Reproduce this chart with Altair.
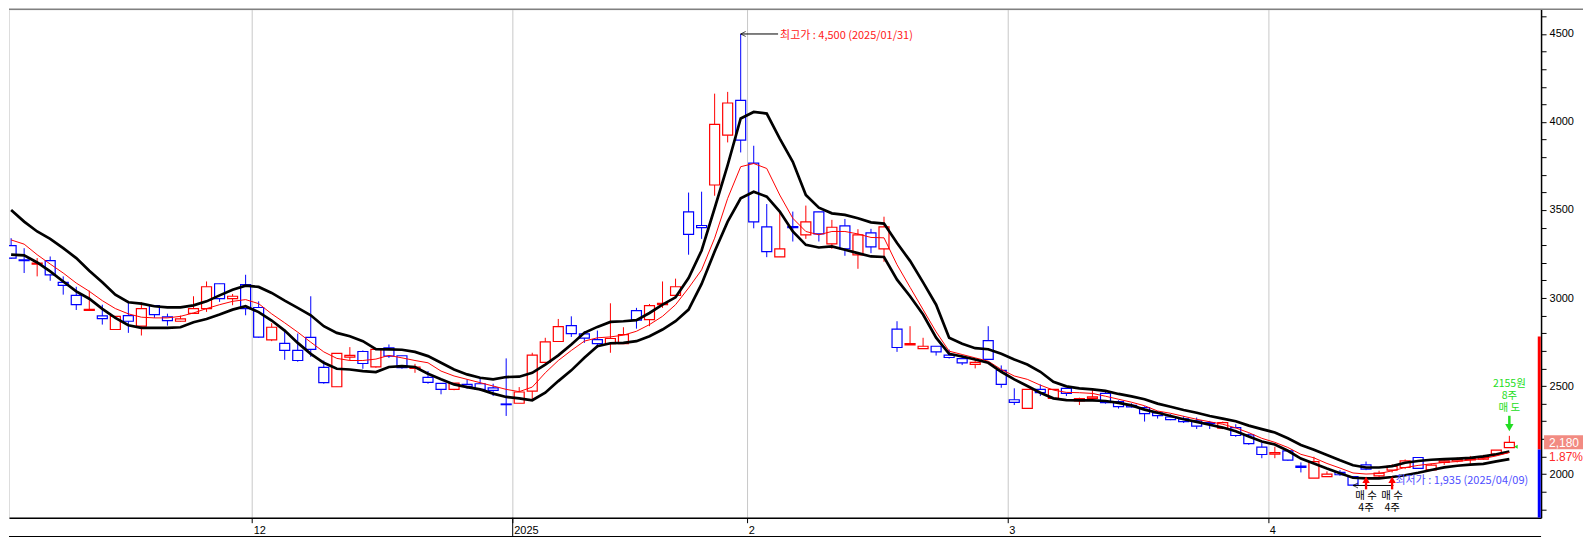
import altair as alt
import pandas as pd

# ---------------- data ----------------
opens = [3298,3217,3193,3212,3089,3015,2930,2898,2821,2900,
         2840,2957,2893,2868,2913,2940,3081,2996,3076,2946,
         2762,2742,2702,2776,2606,2496,2664,2696,2609,2717,
         2672,2600,2549,2515,2481,2509,2513,2489,2398,2402,
         2471,2634,2753,2843,2796,2764,2741,2741,2928,2877,
         2962,3015,3489,3412,3642,3925,4123,3766,3404,3234,
         3406,3359,3489,3308,3410,3245,3370,3279,2823,2734,
         2713,2726,2675,2656,2623,2758,2589,2422,2373,2481,
         2430,2487,2415,2430,2458,2411,2390,2377,2347,2324,
         2313,2302,2292,2260,2264,2222,2153,2113,2132,2045,
         1977,1985,2009,1985,2052,1990,2022,2037,2094,2024,
         2066,2075,2081,2085,2113,2150]
highs = [3340,3283,3227,3236,3123,3064,3042,2962,2896,2981,
         2976,2960,2911,2900,3010,3094,3081,3023,3132,2981,
         2857,2821,2798,3010,2645,2685,2721,2702,2713,2736,
         2672,2626,2585,2515,2517,2538,2543,2513,2657,2494,
         2689,2774,2881,2896,2811,2815,2970,2834,2944,2966,
         3094,3110,3599,3604,4161,4171,4500,3865,3534,3491,
         3491,3525,3489,3444,3449,3391,3393,3462,2868,2840,
         2774,2726,2707,2675,2645,2840,2617,2487,2481,2509,
         2481,2487,2434,2477,2472,2419,2402,2385,2358,2340,
         2330,2321,2302,2298,2283,2230,2179,2155,2136,2066,
         2098,2015,2022,1985,2071,2019,2056,2083,2094,2060,
         2090,2094,2103,2109,2136,2217]
lows = [3223,3142,3123,3098,3019,2932,2928,2849,2821,2802,
        2787,2887,2843,2866,2913,2921,2978,2959,2902,2775,
        2755,2649,2638,2666,2513,2496,2645,2598,2604,2660,
        2598,2575,2513,2453,2476,2485,2472,2443,2330,2402,
        2415,2634,2753,2779,2745,2717,2689,2741,2826,2840,
        2944,3015,3246,3336,3581,3884,3827,3396,3232,3234,
        3321,3336,3321,3279,3240,3166,3255,3206,2694,2734,
        2713,2673,2656,2619,2600,2651,2490,2392,2373,2443,
        2430,2443,2392,2415,2400,2372,2377,2298,2315,2306,
        2290,2256,2256,2255,2211,2166,2090,2090,2075,2009,
        1977,1985,1990,1935,2022,1981,2009,2028,2032,2018,
        2052,2066,2056,2081,2113,2150]
closes = [3227,3212,3198,3132,3072,2962,2936,2883,2896,2868,
          2940,2906,2872,2881,2940,3064,2996,3010,2940,2778,
          2834,2702,2645,2708,2519,2685,2674,2628,2708,2670,
          2604,2608,2521,2481,2517,2498,2481,2475,2394,2466,
          2675,2751,2838,2798,2772,2741,2770,2792,2874,2957,
          2970,3064,3361,3400,3987,4108,3897,3432,3264,3279,
          3400,3432,3364,3402,3279,3359,3291,3404,2719,2741,
          2726,2694,2662,2632,2634,2651,2509,2407,2481,2462,
          2481,2458,2428,2438,2406,2383,2381,2343,2332,2309,
          2298,2272,2287,2292,2219,2173,2111,2122,2079,2038,
          2070,2000,1996,1937,2028,2005,2043,2075,2032,2051,
          2075,2083,2088,2094,2136,2180]
env_upper = [3500,3434,3378,3336,3283,3227,3155,3089,3019,2976,
             2968,2953,2947,2947,2958,2981,3015,3047,3070,3063,
             3029,2985,2944,2902,2840,2802,2783,2755,2710,2708,
             2706,2694,2670,2632,2594,2566,2547,2538,2551,2553,
             2575,2622,2674,2736,2802,2836,2864,2868,2874,2915,
             2962,3004,3113,3270,3510,3755,4020,4057,4048,3906,
             3774,3585,3513,3481,3472,3453,3430,3423,3312,3211,
             3089,2962,2774,2740,2715,2709,2683,2651,2622,2581,
             2524,2498,2487,2481,2472,2455,2441,2425,2400,2382,
             2364,2348,2330,2315,2300,2275,2255,2236,2203,2165,
             2138,2108,2078,2050,2037,2037,2045,2064,2074,2081,
             2085,2088,2092,2100,2112,2128]
ma_mid = [3330,3306,3246,3193,3142,3085,3038,2985,2940,2910,
          2891,2887,2887,2896,2915,2940,2962,2981,2991,2968,
          2910,2859,2806,2749,2694,2657,2645,2645,2653,2674,
          2660,2645,2632,2585,2557,2538,2519,2500,2481,2468,
          2494,2575,2645,2702,2755,2774,2779,2789,2811,2849,
          2896,2962,3057,3160,3340,3566,3746,3764,3736,3585,
          3453,3378,3359,3378,3378,3364,3344,3342,3189,3061,
          2934,2808,2698,2679,2660,2641,2594,2557,2538,2505,
          2477,2464,2462,2458,2442,2425,2408,2388,2358,2345,
          2328,2311,2297,2283,2262,2235,2203,2180,2151,2112,
          2092,2060,2034,2006,2000,2003,2018,2037,2049,2058,
          2066,2071,2080,2088,2103,2122]
env_lower = [3247,3242,3202,3151,3094,3038,2996,2938,2887,2845,
             2830,2830,2830,2834,2862,2881,2906,2934,2953,2920,
             2872,2815,2745,2683,2632,2598,2594,2585,2579,2608,
             2613,2608,2570,2538,2509,2494,2481,2457,2438,2430,
             2419,2462,2528,2589,2660,2726,2743,2745,2755,2783,
             2821,2868,2934,3080,3264,3434,3566,3604,3576,3491,
             3378,3302,3287,3293,3274,3255,3236,3233,3104,3010,
             2906,2775,2683,2668,2651,2632,2581,2538,2500,2462,
             2430,2420,2419,2419,2415,2404,2390,2366,2348,2330,
             2311,2296,2280,2264,2243,2213,2185,2168,2132,2088,
             2060,2031,2004,1979,1975,1975,1983,1993,2007,2023,
             2038,2047,2053,2058,2072,2085]

month_breaks = [18.5, 38.5, 56.5, 76.5, 96.5]
month_labels = ["12", "2025", "2", "3", "4"]
year_break = 38.5
y_ticks = list(range(1800, 4601, 100))

hi_idx, hi_val, hi_text = 56, 4500, "최고가 : 4,500 (2025/01/31)"
lo_idx, lo_val, lo_text = 103, 1935, "최저가 : 1,935 (2025/04/09)"
buy_idx = [104, 106]
buy_lines = ["매 수", "4주"]
sell_idx = 115
sell_lines = ["2155원", "8주", "매 도"]
sell_price = 2155
last_close = 2180
prev_close = 2140
upper_limit = 2782
change_text = "1.87%"

# ---------------- chart ----------------
W, H = 1534, 509
Y_MIN, Y_MAX = 1752, 4640
xs = alt.Scale(domain=[0.221, 117.05], nice=False, zero=False)
ys = alt.Scale(domain=[Y_MIN, Y_MAX], nice=False, zero=False)

expr = "''"
for b, lab in reversed(list(zip(month_breaks, month_labels))):
    expr = f"(abs(datum.value - {b}) < 0.01 ? '{lab}' : {expr})"

xaxis = alt.Axis(values=month_breaks, labelExpr=expr, grid=True, gridColor="#c8c8c8",
                 gridWidth=1, domainColor="#000000", domainWidth=1.5, tickColor="#000000",
                 tickSize=5, tickWidth=1, labelAlign="left", labelBaseline="top",
                 labelPadding=2, labelOffset=1, labelFont="Liberation Sans", labelFontSize=11,
                 labelColor="#000000", labelFlush=False, labelOverlap=False, title=None)
yaxis = alt.Axis(orient="right", values=y_ticks,
                 labelExpr="datum.value % 500 === 0 ? '' + datum.value : ''",
                 grid=False, domainColor="#000000", domainWidth=1.5, tickColor="#000000",
                 tickSize=5, tickWidth=1, labelPadding=3, labelFont="Liberation Sans",
                 labelFontSize=11, labelColor="#000000", labelOverlap=False, title=None)


def X(f="i"):
    return alt.X(f"{f}:Q", scale=xs, axis=xaxis)


def Y(f="p"):
    return alt.Y(f"{f}:Q", scale=ys, axis=yaxis)


df = pd.DataFrame({"i": list(range(len(opens))), "open": opens, "high": highs,
                   "low": lows, "close": closes, "up": env_upper, "mid": ma_mid,
                   "dn": env_lower})
df["dir"] = ["up" if c >= o else "down" for o, c in zip(opens, closes)]
dir_scale = alt.Scale(domain=["up", "down"], range=["#ff0000", "#0000ff"])

base = alt.Chart(df)
wicks = base.mark_rule(strokeWidth=1, clip=True).encode(
    x=X(), y=Y("low"), y2="high:Q", color=alt.Color("dir:N", scale=dir_scale, legend=None))
bodies = base.mark_bar(size=10, fill="white", strokeWidth=1.2, clip=True).encode(
    x=X(), y=Y("open"), y2="close:Q", stroke=alt.Stroke("dir:N", scale=dir_scale, legend=None))
l_up = base.mark_line(color="#000000", strokeWidth=2.7, clip=True).encode(x=X(), y=Y("up"))
l_mid = base.mark_line(color="#ff0000", strokeWidth=1, clip=True).encode(x=X(), y=Y("mid"))
l_dn = base.mark_line(color="#000000", strokeWidth=2.7, clip=True).encode(x=X(), y=Y("dn"))

# price-range bar on the right axis
bar_df = pd.DataFrame({"p": [prev_close, Y_MIN], "p2": [upper_limit, prev_close],
                       "c": ["#ff0000", "#0000ff"]})
axis_bar = alt.Chart(bar_df).mark_rule(strokeWidth=3, clip=True).encode(
    x=alt.value(W - 1.8), y=Y("p"), y2="p2:Q", color=alt.Color("c:N", scale=None))

# current price label
lab_df = pd.DataFrame({"p": [last_close], "t": [f"{last_close:,}"], "chg": [change_text]})
lab_box = alt.Chart(lab_df).mark_rect(height=14, color="#f28b82").encode(
    x=alt.value(W + 3), x2=alt.value(W + 42), y=Y("p"))
lab_txt = alt.Chart(lab_df).mark_text(color="#ffffff", font="Liberation Sans", fontSize=12,
                                      align="center", baseline="middle", dy=1).encode(
    x=alt.value(W + 23), y=Y("p"), text="t:N")
chg_txt = alt.Chart(lab_df).mark_text(color="#ff2a2a", font="Liberation Sans", fontSize=12,
                                      align="right", baseline="middle", dy=15).encode(
    x=alt.value(W + 42), y=Y("p"), text="chg:N")

# high / low annotations
ext_df = pd.DataFrame({"i": [hi_idx, lo_idx], "i2": [hi_idx + 2.87, lo_idx + 3.1],
                       "p": [hi_val, lo_val], "t": [hi_text, lo_text]})
ext_line = alt.Chart(ext_df).mark_rule(color="#000000", strokeWidth=1).encode(
    x=X("i"), x2="i2:Q", y=Y("p"))
ext_head = alt.Chart(ext_df).mark_point(shape="M 1 -0.5 L 0 0 L 1 0.5", size=100,
                                        filled=False, color="#000000", strokeWidth=1).encode(
    x=X("i"), y=Y("p"))
hi_txt = alt.Chart(ext_df.iloc[[0]]).mark_text(font="Noto Sans CJK KR", fontSize=11,
                                               align="left", baseline="middle", dx=2, dy=2,
                                               color="#ff2020").encode(
    x=X("i2"), y=Y("p"), text="t:N")
lo_txt = alt.Chart(ext_df.iloc[[1]]).mark_text(font="Noto Sans CJK KR", fontSize=11,
                                               align="left", baseline="middle", dx=2, dy=-4,
                                               color="#5050ff").encode(
    x=X("i2"), y=Y("p"), text="t:N")

# buy signals
buy_arrow_df = pd.DataFrame({"i": buy_idx, "p": [1913] * 2, "p2": [1958] * 2, "h": [1968] * 2})
buy_shaft = alt.Chart(buy_arrow_df).mark_rule(color="#ff0000", strokeWidth=2.3).encode(
    x=X("i"), y=Y("p"), y2="p2:Q")
buy_head = alt.Chart(buy_arrow_df).mark_point(shape="triangle-up", size=55, filled=True,
                                              color="#ff0000", opacity=1).encode(
    x=X("i"), y=Y("h"))
buy_text_df = pd.DataFrame([{"i": b, "p": lvl, "t": t} for b in buy_idx
                            for t, lvl in zip(buy_lines, [1874, 1806])])
buy_txt = alt.Chart(buy_text_df).mark_text(font="Noto Sans CJK KR", fontSize=10.5,
                                           align="center", baseline="middle",
                                           color="#000000").encode(
    x=X("i"), y=Y("p"), text="t:N")

# sell signal
sell_arrow_df = pd.DataFrame({"i": [sell_idx], "p": [2282], "p2": [2331], "h": [2263]})
sell_shaft = alt.Chart(sell_arrow_df).mark_rule(color="#22dd22", strokeWidth=2.5).encode(
    x=X("i"), y=Y("p"), y2="p2:Q")
sell_head = alt.Chart(sell_arrow_df).mark_point(shape="triangle-down", size=70, filled=True,
                                                color="#22dd22", opacity=1).encode(
    x=X("i"), y=Y("h"))
sell_text_df = pd.DataFrame({"i": [sell_idx] * 3, "p": [2514, 2445, 2376], "t": sell_lines})
sell_txt = alt.Chart(sell_text_df).mark_text(font="Noto Sans CJK KR", fontSize=10.5,
                                             align="center", baseline="middle",
                                             color="#22dd22").encode(
    x=X("i"), y=Y("p"), text="t:N")
sell_mark_df = pd.DataFrame({"i": [sell_idx + 0.5], "p": [sell_price]})
sell_mark = alt.Chart(sell_mark_df).mark_point(shape="triangle-left", size=18, filled=True,
                                               color="#22dd22", opacity=1).encode(
    x=X("i"), y=Y("p"))

# frame decorations
deco_df = pd.DataFrame({"i": [year_break]})
year_tick = alt.Chart(deco_df).mark_rule(color="#000000", strokeWidth=1).encode(
    x=X("i"), y=alt.value(H), y2=alt.value(H + 19))
bottom_line = alt.Chart(deco_df).mark_rule(color="#000000", strokeWidth=1.5).encode(
    x=alt.value(0), x2=alt.value(W), y=alt.value(H + 19))
top_line = alt.Chart(deco_df).mark_rule(color="#808080", strokeWidth=1.5).encode(
    x=alt.value(0), x2=alt.value(W + 42), y=alt.value(0))

chart = alt.layer(
    wicks, bodies, l_up, l_mid, l_dn, axis_bar, lab_box, lab_txt, chg_txt,
    ext_line, ext_head, hi_txt, lo_txt, buy_shaft, buy_head, buy_txt,
    sell_shaft, sell_head, sell_txt, sell_mark, year_tick, bottom_line, top_line
).properties(
    width=W, height=H, padding={"left": 0, "top": 0, "right": 0, "bottom": 0}
).configure_view(stroke=None).configure(background="white")

chart.save("out.html", embed_options={"renderer": "svg", "actions": False})
